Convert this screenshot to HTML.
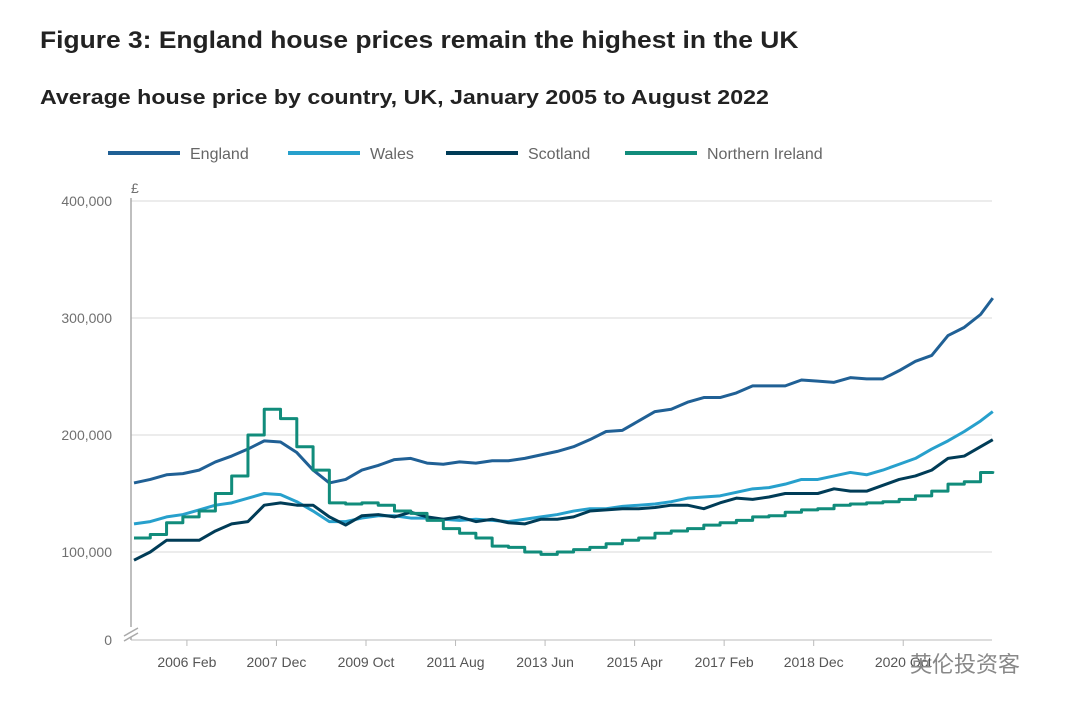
<!DOCTYPE html>
<html><head><meta charset="utf-8"><style>
body{margin:0;background:#fff;width:1080px;height:712px;overflow:hidden;font-family:"Liberation Sans",sans-serif}
.t1{position:absolute;left:40px;top:27px;font-size:24px;font-weight:bold;color:#222;transform:scaleX(1.10);transform-origin:0 0;white-space:nowrap}
.t2{position:absolute;left:40px;top:87px;font-size:20px;font-weight:bold;color:#222;transform:scaleX(1.16);transform-origin:0 0;white-space:nowrap}
</style></head><body>
<div class="t1">Figure 3: England house prices remain the highest in the UK</div>
<div class="t2">Average house price by country, UK, January 2005 to August 2022</div>
<svg id="c" width="1080" height="712" style="position:absolute;left:0;top:0"></svg>
<script>
const seriesNames=["England","Wales","Scotland","Northern Ireland"];
const england=[159,162,166,167,170,177,182,188,195,194,185,170,159,162,170,174,179,180,176,175,177,176,178,178,180,183,186,190,196,203,204,212,220,222,228,232,232,236,242,242,242,247,246,245,249,248,248,255,263,268,285,292,303,317];
const wales=[124,126,130,132,136,140,142,146,150,149,143,135,126,126,129,131,131,129,129,128,127,128,127,126,128,130,132,135,137,137,139,140,141,143,146,147,148,151,154,155,158,162,162,165,168,166,170,175,180,188,195,203,212,220];
const scotland=[93,100,110,110,110,118,124,126,140,142,140,140,130,123,131,132,130,134,130,128,130,126,128,125,124,128,128,130,135,136,137,137,138,140,140,137,142,146,145,147,150,150,150,154,152,152,157,162,165,170,180,182,190,196];
const ni=[112,115,125,130,135,150,165,200,222,214,190,170,142,141,142,140,135,133,127,120,116,112,105,104,100,98,100,102,104,107,110,112,116,118,120,123,125,127,130,131,134,136,137,140,141,142,143,145,148,152,158,160,168,169];
const yTicks=[100000,200000,300000,400000];
const yTickLabels=["100,000","200,000","300,000","400,000"];
const xTickMonths=[13,35,57,79,101,123,145,167,189];
const xTickLabels=["2006 Feb","2007 Dec","2009 Oct","2011 Aug","2013 Jun","2015 Apr","2017 Feb","2018 Dec","2020 Oct"];
const months=[];for(let m=0;m<=208;m+=4)months.push(m);months.push(211);
const colors=["#206095","#27a0cc","#003c57","#118c7b"];
const svg=document.getElementById('c');const NS="http://www.w3.org/2000/svg";
const X=m=>134+m*4.07;
const Y=v=>552-(v-100000)/100000*117;
function el(t,a){const e=document.createElementNS(NS,t);for(const k in a)e.setAttribute(k,a[k]);svg.appendChild(e);return e;}
yTicks.forEach((v,i)=>{const g=el('line',{x1:131,x2:992,y1:Y(v),y2:Y(v),stroke:'#e6e6e6','stroke-width':1.5});


const t=el('text',{x:112,y:Y(v)+5,'text-anchor':'end','font-size':14,fill:'#707070'});t.textContent=yTickLabels[i];

});
const z=el('text',{x:112,y:645,'text-anchor':'end','font-size':14,fill:'#707070'});z.textContent="0";


const pd=el('text',{x:131,y:193,'font-size':14,fill:'#707070'});pd.textContent="£";


const ax=el('path',{d:'M131 198V627M131 637V640M124 636L138 628M124 641L138 633',stroke:'#aaa','stroke-width':1.5,fill:'none'});


const bx=el('path',{d:'M131 640H992',stroke:'#bbb','stroke-width':1,fill:'none'});


xTickMonths.forEach((m,i)=>{const t=el('text',{x:X(m),y:667,'text-anchor':'middle','font-size':14,fill:'#555'});t.textContent=xTickLabels[i];


const tk=el('line',{x1:X(m),x2:X(m),y1:640,y2:646,stroke:'#bbb'});

});
const data=[england,wales,scotland,ni];
data.forEach((s,si)=>{let d='';
s.forEach((v,i)=>{const x=X(months[i]),y=Y(v*1000);
if(i===0)d='M'+x+' '+y;else if(si===3)d+='H'+x+'V'+y;else d+='L'+x+' '+y;});
const p=el('path',{d:d,stroke:colors[si],'stroke-width':3,fill:'none','stroke-linejoin':'round'});

});
const lx=[108,288,446,625];
seriesNames.forEach((n,i)=>{const l=el('line',{x1:lx[i],x2:lx[i]+72,y1:153,y2:153,stroke:colors[i],'stroke-width':4});


const t=el('text',{x:lx[i]+82,y:159,'font-size':16,fill:'#666'});t.textContent=n;

});
const w=el('text',{x:910,y:672,'font-size':22,fill:'#888','font-family':'"Liberation Sans","Noto Sans CJK SC",sans-serif'});w.textContent="英伦投资客";


</script>
</body></html>
